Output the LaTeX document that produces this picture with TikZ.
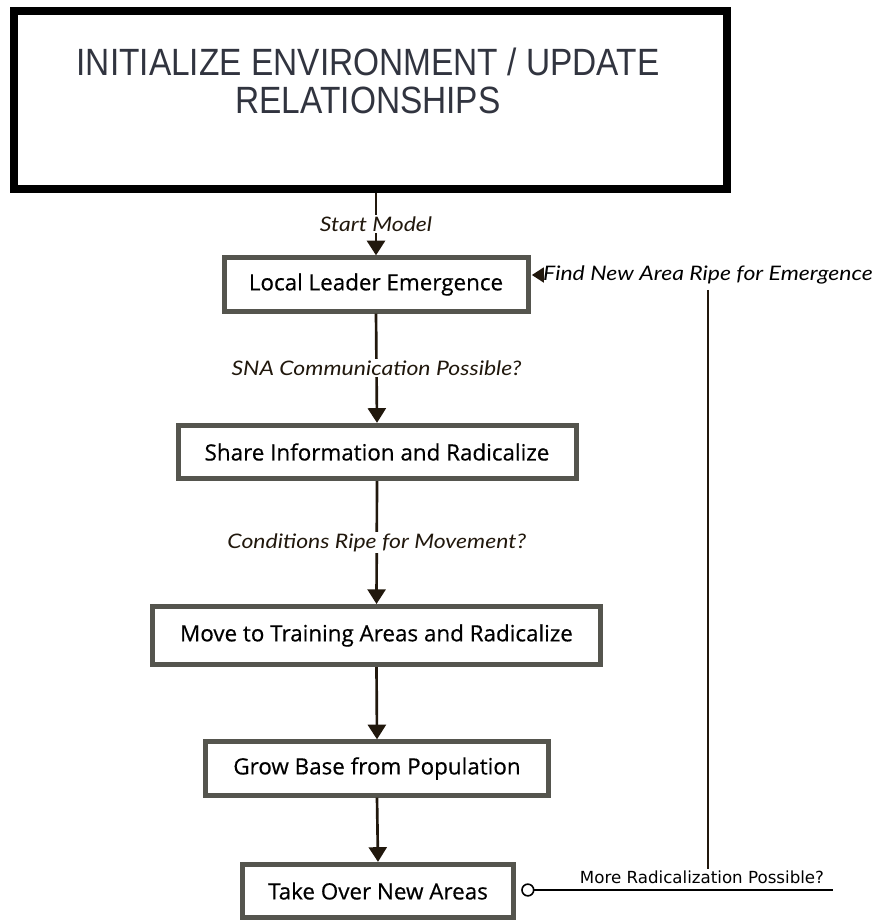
\documentclass[tikz,border=0pt]{standalone}
\usepackage{fontspec}
\setmainfont{Open Sans}
\newfontfamily\boxfont[FakeBold=0.5]{Open Sans}
\newfontfamily\titlefont[FakeStretch=0.88]{Liberation Sans}
\newfontfamily\notefont[FakeStretch=1.15]{Lato}
\newfontfamily\smallfont{DejaVu Sans}
\usetikzlibrary{arrows.meta,positioning}
\definecolor{boxgray}{RGB}{85,85,78}
\definecolor{arrowcol}{RGB}{33,24,13}
\definecolor{titlecol}{RGB}{49,52,63}

\begin{document}
\begin{tikzpicture}[
  x=0.75pt, y=-0.75pt,
  box/.style={draw=boxgray, line width=3.75pt, fill=white, inner sep=0pt,
              minimum height=40pt, font=\boxfont\fontsize{16.8}{20}\selectfont},
  lbl/.style={fill=white, inner sep=1pt, font=\notefont\itshape\fontsize{15}{18}\selectfont},
  arr/.style={-{Triangle[width=13.5pt,length=11pt]}, line width=2pt, arrowcol},
]
\useasboundingbox (0,0) rectangle (873,922);

% ======= Start =======
\node[draw=black, line width=6pt, minimum width=534.75pt, minimum height=133.5pt] (init) at (370.5,100) {};
\node[align=center, text=titlecol, font=\titlefont\fontsize{28.5}{28.5}\selectfont] (inittext) at (368,81)
  {INITIALIZE ENVIRONMENT / UPDATE\\RELATIONSHIPS};

% ======= Steps =======
\node[box, minimum width=228pt]   (leader)   at (376,284.5) {Local Leader Emergence};
\node[box, minimum width=298.5pt] (share)    at (377,452)   {Share Information and Radicalize};
\node[box, minimum width=336pt, minimum height=43.5pt] (training) at (376.5,635.5) {Move to Training Areas and Radicalize};
\node[box, minimum width=257pt]   (grow)     at (377,768.5) {Grow Base from Population};
\node[box, minimum width=203pt]   (takeover) at (378,891)   {Take Over New Areas};

% ======= Flow =======
\draw[arr] (leader.north |- init.south) -- node[lbl]{Start Model} (leader.north);
\draw[arr] (leader.south) -- node[lbl]{SNA Communication Possible?}   (share.north);
\draw[arr] (share.south)  -- node[lbl]{Conditions Ripe for Movement?} (training.north);
\draw[arr] (training.south) -- (grow.north);
\draw[arr] (grow.south)     -- (takeover.north);

% ======= Loop back =======
\coordinate (loopend) at (833,890);
\node[lbl, inner sep=0pt] (findlbl) at (708,275) {Find New Area Ripe for Emergence};
\node[font=\smallfont\fontsize{12.5}{14}\selectfont, inner sep=1pt] (morelbl) at (702,877) {More Radicalization Possible?};
\draw[{Circle[open,length=10pt]}-, line width=1.2pt, black, shorten <=4pt]
  (takeover.east |- loopend) -- (loopend);
\draw[line width=2pt, arrowcol] ([yshift=-4pt]findlbl.south) -- (findlbl.south |- morelbl.north);
\draw[-{Triangle[width=11pt,length=9pt]}, line width=2pt, arrowcol, shorten >=1pt]
  (findlbl.west) -- (leader.east |- findlbl.west);

\end{tikzpicture}
\end{document}
